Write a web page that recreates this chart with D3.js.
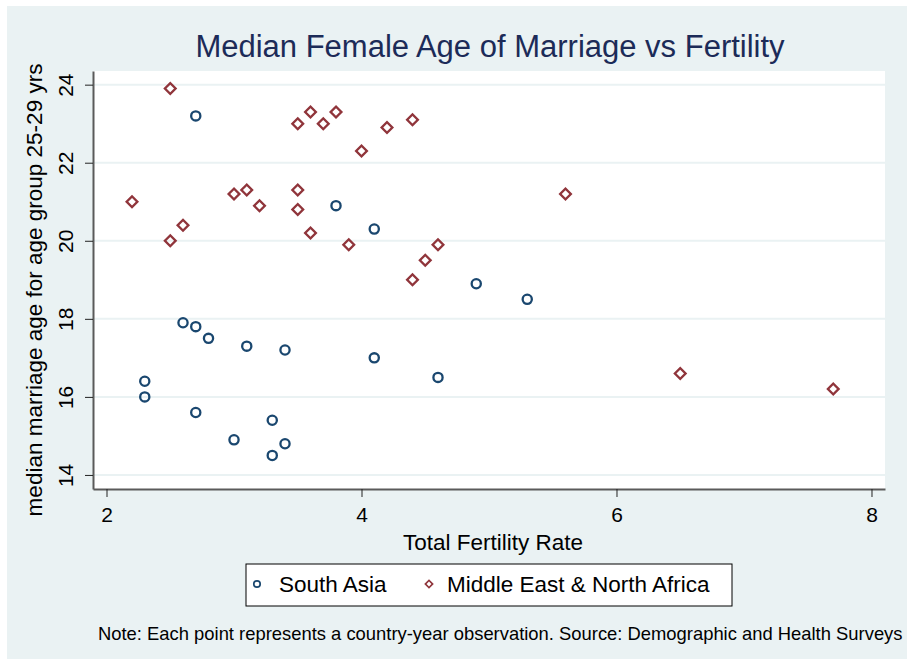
<!DOCTYPE html>
<html>
<head>
<meta charset="utf-8">
<script src="https://cdn.jsdelivr.net/npm/d3@7/dist/d3.min.js"></script>
<style>
    body { margin: 0; background: #ffffff; }
    text { font-family: "Liberation Sans", Arial, sans-serif; }
</style>
</head>
<body>
<svg id="chart" width="907" height="659"></svg>
<script>

// South Asia observations
const southAsiaTfr = [2.7, 3.8, 4.1, 4.9, 5.3, 4.6, 2.6, 2.7, 2.8, 3.1, 3.4, 4.1, 2.3, 2.3, 2.7, 3.3, 3.0, 3.4, 3.3]
const southAsiaAge = [23.2, 20.9, 20.3, 18.9, 18.5, 16.5, 17.9, 17.8, 17.5, 17.3, 17.2, 17.0, 16.4, 16.0, 15.6, 15.4, 14.9, 14.8, 14.5]

// Middle East & North Africa observations
const menaTfr = [2.5, 3.5, 3.6, 3.7, 3.8, 4.2, 4.4, 4.0, 2.2, 3.0, 3.1, 3.2, 3.5, 3.5, 2.6, 2.5, 3.6, 3.9, 5.6, 4.6, 4.5, 4.4, 6.5, 7.7]
const menaAge = [23.9, 23.0, 23.3, 23.0, 23.3, 22.9, 23.1, 22.3, 21.0, 21.2, 21.3, 20.9, 21.3, 20.8, 20.4, 20.0, 20.2, 19.9, 21.2, 19.9, 19.5, 19.0, 16.6, 16.2]

const xTicks = [2, 4, 6, 8]
const yTicks = [14, 16, 18, 20, 22, 24]

const seriesNames = ["South Asia", "Middle East & North Africa"]


function drawChart() {

    const width = 907
    const height = 659

    const navy = "#1a476f"
    const maroon = "#90353b"

    //plot region inside the graph
    const margin = { top: 71, right: 22, bottom: 170, left: 93 }
    const innerWidth = width - margin.left - margin.right
    const innerHeight = height - margin.top - margin.bottom

    const xScale = d3.scaleLinear()
        .domain([1.894, 8.106])
        .range([0, innerWidth])

    const yScale = d3.scaleLinear()
        .domain([13.64, 24.35])
        .range([innerHeight, 0])

    const svg = d3.select("#chart")

    // graph background
    svg.append("rect")
        .attr("x", 7).attr("y", 6)
        .attr("width", width - 7).attr("height", height - 6)
        .attr("fill", "#eaf2f3")

    svg.append("text")
        .attr("x", margin.left + innerWidth / 2 + 1)
        .attr("y", 57)
        .attr("text-anchor", "middle")
        .attr("fill", "#1c2b58")
        .style("font-size", "31px")
        .text("Median Female Age of Marriage vs Fertility")

    const g = svg.append("g")
        .attr("transform", "translate(" + margin.left + "," + margin.top + ")")

    g.append("rect")
        .attr("width", innerWidth)
        .attr("height", innerHeight)
        .attr("fill", "#ffffff")

    // grid lines
    g.selectAll(".grid")
        .data(yTicks)
        .enter()
        .append("line")
        .attr("class", "grid")
        .attr("x1", 0).attr("x2", innerWidth)
        .attr("y1", d => yScale(d)).attr("y2", d => yScale(d))
        .attr("stroke", "#eaf2f3")
        .attr("stroke-width", 2)

    const xAxis = d3.axisBottom(xScale).tickValues(xTicks).tickSize(8).tickSizeOuter(0).tickFormat(d3.format("d"))
    const yAxis = d3.axisLeft(yScale).tickValues(yTicks).tickSize(8).tickSizeOuter(0).tickFormat(d3.format("d"))

    const gx = g.append("g")
        .attr("transform", "translate(0," + innerHeight + ")")
        .call(xAxis)
    gx.select(".domain").attr("stroke", "#5a5a5a").attr("stroke-width", 2)
    gx.selectAll(".tick line").attr("stroke", "#222")
    gx.selectAll(".tick text")
        .attr("y", 33).attr("dy", 0)
        .attr("fill", "#000")
        .style("font-size", "21px")
        .style("font-family", "Liberation Sans, Arial, sans-serif")

    const gy = g.append("g").call(yAxis)
    gy.select(".domain").attr("stroke", "#5a5a5a").attr("stroke-width", 2)
    gy.selectAll(".tick line").attr("stroke", "#222")
    gy.selectAll(".tick text")
        .attr("transform", "rotate(-90)")
        .attr("x", 0).attr("y", -20).attr("dy", 0)
        .attr("text-anchor", "middle")
        .attr("fill", "#000")
        .style("font-size", "21px")
        .style("font-family", "Liberation Sans, Arial, sans-serif")

    // axis titles
    svg.append("text")
        .attr("x", 493)
        .attr("y", 550)
        .attr("text-anchor", "middle")
        .style("font-size", "22.5px")
        .text("Total Fertility Rate")

    svg.append("text")
        .attr("transform", "translate(42," + 290 + ") rotate(-90)")
        .attr("text-anchor", "middle")
        .style("font-size", "22.5px")
        .text("median marriage age for age group 25-29 yrs")

    const southAsia = southAsiaTfr.map((t, i) => ({ tfr: t, age: southAsiaAge[i] }))
    const mena = menaTfr.map((t, i) => ({ tfr: t, age: menaAge[i] }))

    g.selectAll(".sa")
        .data(southAsia)
        .enter()
        .append("circle")
        .attr("class", "sa")
        .attr("cx", d => xScale(d.tfr))
        .attr("cy", d => yScale(d.age))
        .attr("r", 4.6)
        .attr("fill", "none")
        .attr("stroke", navy)
        .attr("stroke-width", 2.3)

    const diamond = d3.symbol().type(d3.symbolSquare).size(58)

    g.selectAll(".mena")
        .data(mena)
        .enter()
        .append("path")
        .attr("class", "mena")
        .attr("d", diamond)
        .attr("transform", d => "translate(" + xScale(d.tfr) + "," + yScale(d.age) + ") rotate(45)")
        .attr("fill", "none")
        .attr("stroke", maroon)
        .attr("stroke-width", 2.3)

    // legend
    const legend = svg.append("g")
    legend.append("rect")
        .attr("x", 246).attr("y", 564)
        .attr("width", 486).attr("height", 42)
        .attr("fill", "#ffffff")
        .attr("stroke", "#000")
        .attr("stroke-width", 1)

    legend.append("circle")
        .attr("cx", 257).attr("cy", 584)
        .attr("r", 3.2)
        .attr("fill", "none")
        .attr("stroke", navy)
        .attr("stroke-width", 1.7)

    legend.append("text")
        .attr("x", 279).attr("y", 592)
        .style("font-size", "22.5px")
        .text(seriesNames[0])

    legend.append("path")
        .attr("d", d3.symbol().type(d3.symbolSquare).size(26))
        .attr("transform", "translate(429,584) rotate(45)")
        .attr("fill", "none")
        .attr("stroke", maroon)
        .attr("stroke-width", 1.7)

    legend.append("text")
        .attr("x", 447).attr("y", 592)
        .style("font-size", "22.5px")
        .text(seriesNames[1])

    svg.append("text")
        .attr("x", 98).attr("y", 640)
        .style("font-size", "18.4px")
        .text("Note: Each point represents a country-year observation. Source: Demographic and Health Surveys")
}

drawChart()

</script>
</body>
</html>
